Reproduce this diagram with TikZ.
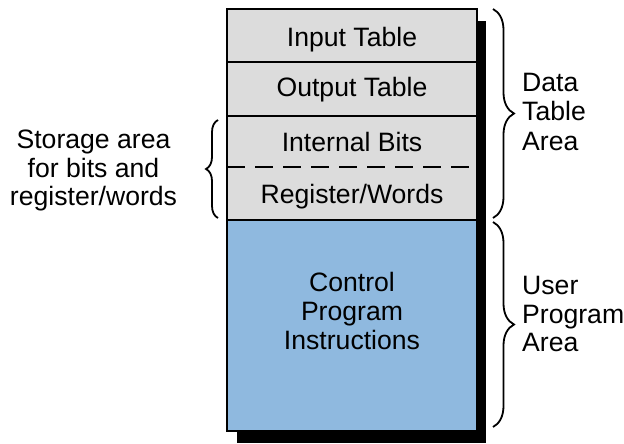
\documentclass[tikz,border=0pt]{standalone}
\usepackage{fontspec}
\setmainfont{Liberation Sans}
\usetikzlibrary{decorations.pathreplacing}
\definecolor{cellgray}{HTML}{DCDCDC}
\definecolor{cellblue}{HTML}{8FB9DF}
\begin{document}
\begin{tikzpicture}[x=1pt,y=-1pt,
  lbl/.style={inner sep=0pt,anchor=base,font=\fontsize{26.6}{29}\selectfont},
  lbll/.style={inner sep=0pt,anchor=base west,font=\fontsize{26.6}{29}\selectfont},
  bracestyle/.style={line width=1.8pt,decorate,decoration={brace,amplitude=#1}},
  cellline/.style={line width=2pt}]
\useasboundingbox (0,0) rectangle (624,444);
% shadow
\fill[black] (236.5,21) rectangle (486,443);
% cells
\draw[cellline,fill=cellgray] (227,9) rectangle (476.7,220);
\draw[cellline,fill=cellblue] (227,220) rectangle (476.7,431);
\draw[cellline] (227,61.7) -- (476.7,61.7);
\draw[cellline] (227,115.7) -- (476.7,115.7);
\draw[cellline,dash pattern=on 18pt off 10pt] (227,166.7) -- (476.7,166.7);
% cell texts
\node[lbl] (tin) at (352,46.7) {Input Table};
\node[lbl] (tout) at (352,96.7) {Output Table};
\node[lbl] (tint) at (352,151.7) {Internal Bits};
\node[lbl] (treg) at (352,203.3) {Register/Words};
\node[lbl] (tc1) at (352,291) {Control};
\node[lbl] (tc2) at (352,320) {Program};
\node[lbl] (tc3) at (352,349) {Instructions};
% braces
\draw[bracestyle=21pt] (493,9) -- (493,218);
\draw[bracestyle=21pt] (493,222) -- (493,427);
\draw[bracestyle=12pt] (218,218) -- (218,120);
% side labels
\node[lbl] (s1) at (93.5,148) {Storage area};
\node[lbl] (s2) at (93.5,177) {for bits and};
\node[lbl] (s3) at (93.5,205) {register/words};
\node[lbll] (d1) at (522,92) {Data};
\node[lbll] (d2) at (522,121) {Table};
\node[lbll] (d3) at (522,150) {Area};
\node[lbll] (u1) at (522,294) {User};
\node[lbll] (u2) at (522,323) {Program};
\node[lbll] (u3) at (522,351) {Area};
\end{tikzpicture}
\end{document}
